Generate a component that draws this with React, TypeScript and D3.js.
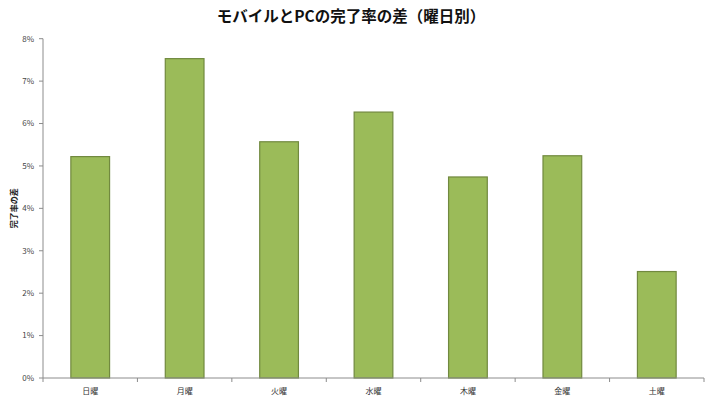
import React from "react";
import * as d3 from "d3";

const categories = ["日曜", "月曜", "火曜", "水曜", "木曜", "金曜", "土曜"];
const values = [0.0522, 0.0753, 0.0557, 0.0627, 0.0474, 0.0524, 0.0251];
const yTicks = [0, 0.01, 0.02, 0.03, 0.04, 0.05, 0.06, 0.07, 0.08];
const title = "モバイルとPCの完了率の差（曜日別）";
const yTitle = "完了率の差";

const W = 711;
const H = 400;
const left = 43;
const right = 704;
const top = 38.7;
const bottom = 378;

export default function App() {
  const x = d3
    .scaleBand<string>()
    .domain(categories)
    .range([left, right])
    .paddingInner(0.59)
    .paddingOuter(0.295);
  const y = d3.scaleLinear().domain([0, 0.08]).range([bottom, top]);
  const step = x.step();
  const font = "'Noto Sans CJK JP', 'Noto Sans', sans-serif";
  const fmt = d3.format(".0%");

  return (
    <svg
      width={W}
      height={H}
      style={{ position: "absolute", left: 0, top: 0, display: "block", background: "#fff" }}
      fontFamily={font}
    >
      <text x={351} y={22} textAnchor="middle" fontSize={15.5} fontWeight="bold" fill="#111">
        {title}
      </text>
      <text
        transform={`translate(17, ${(top + bottom) / 2}) rotate(-90)`}
        textAnchor="middle"
        fontSize={8}
        fontWeight="bold"
        fill="#222"
      >
        {yTitle}
      </text>
      {values.map((v, i) => (
        <rect
          key={categories[i]}
          x={x(categories[i])}
          y={y(v)}
          width={x.bandwidth()}
          height={y(0) - y(v)}
          fill="#9BBB59"
          stroke="#71893F"
          strokeWidth={1.2}
        />
      ))}
      <line x1={left} x2={left} y1={top} y2={bottom} stroke="#8c8c8c" strokeWidth={1} />
      <line x1={left} x2={right} y1={bottom} y2={bottom} stroke="#8c8c8c" strokeWidth={1} />
      {yTicks.map((t) => (
        <g key={t}>
          <line x1={left - 4} x2={left} y1={y(t)} y2={y(t)} stroke="#8c8c8c" />
          <text x={left - 9} y={y(t)} dy="0.35em" textAnchor="end" fontSize={8} fill="#444">
            {fmt(t)}
          </text>
        </g>
      ))}
      {d3.range(categories.length + 1).map((i) => (
        <line
          key={i}
          x1={left + i * step}
          x2={left + i * step}
          y1={bottom}
          y2={bottom + 4}
          stroke="#8c8c8c"
        />
      ))}
      {categories.map((c) => (
        <text
          key={c}
          x={(x(c) as number) + x.bandwidth() / 2}
          y={394}
          textAnchor="middle"
          fontSize={8}
          fill="#333"
        >
          {c}
        </text>
      ))}
    </svg>
  );
}
